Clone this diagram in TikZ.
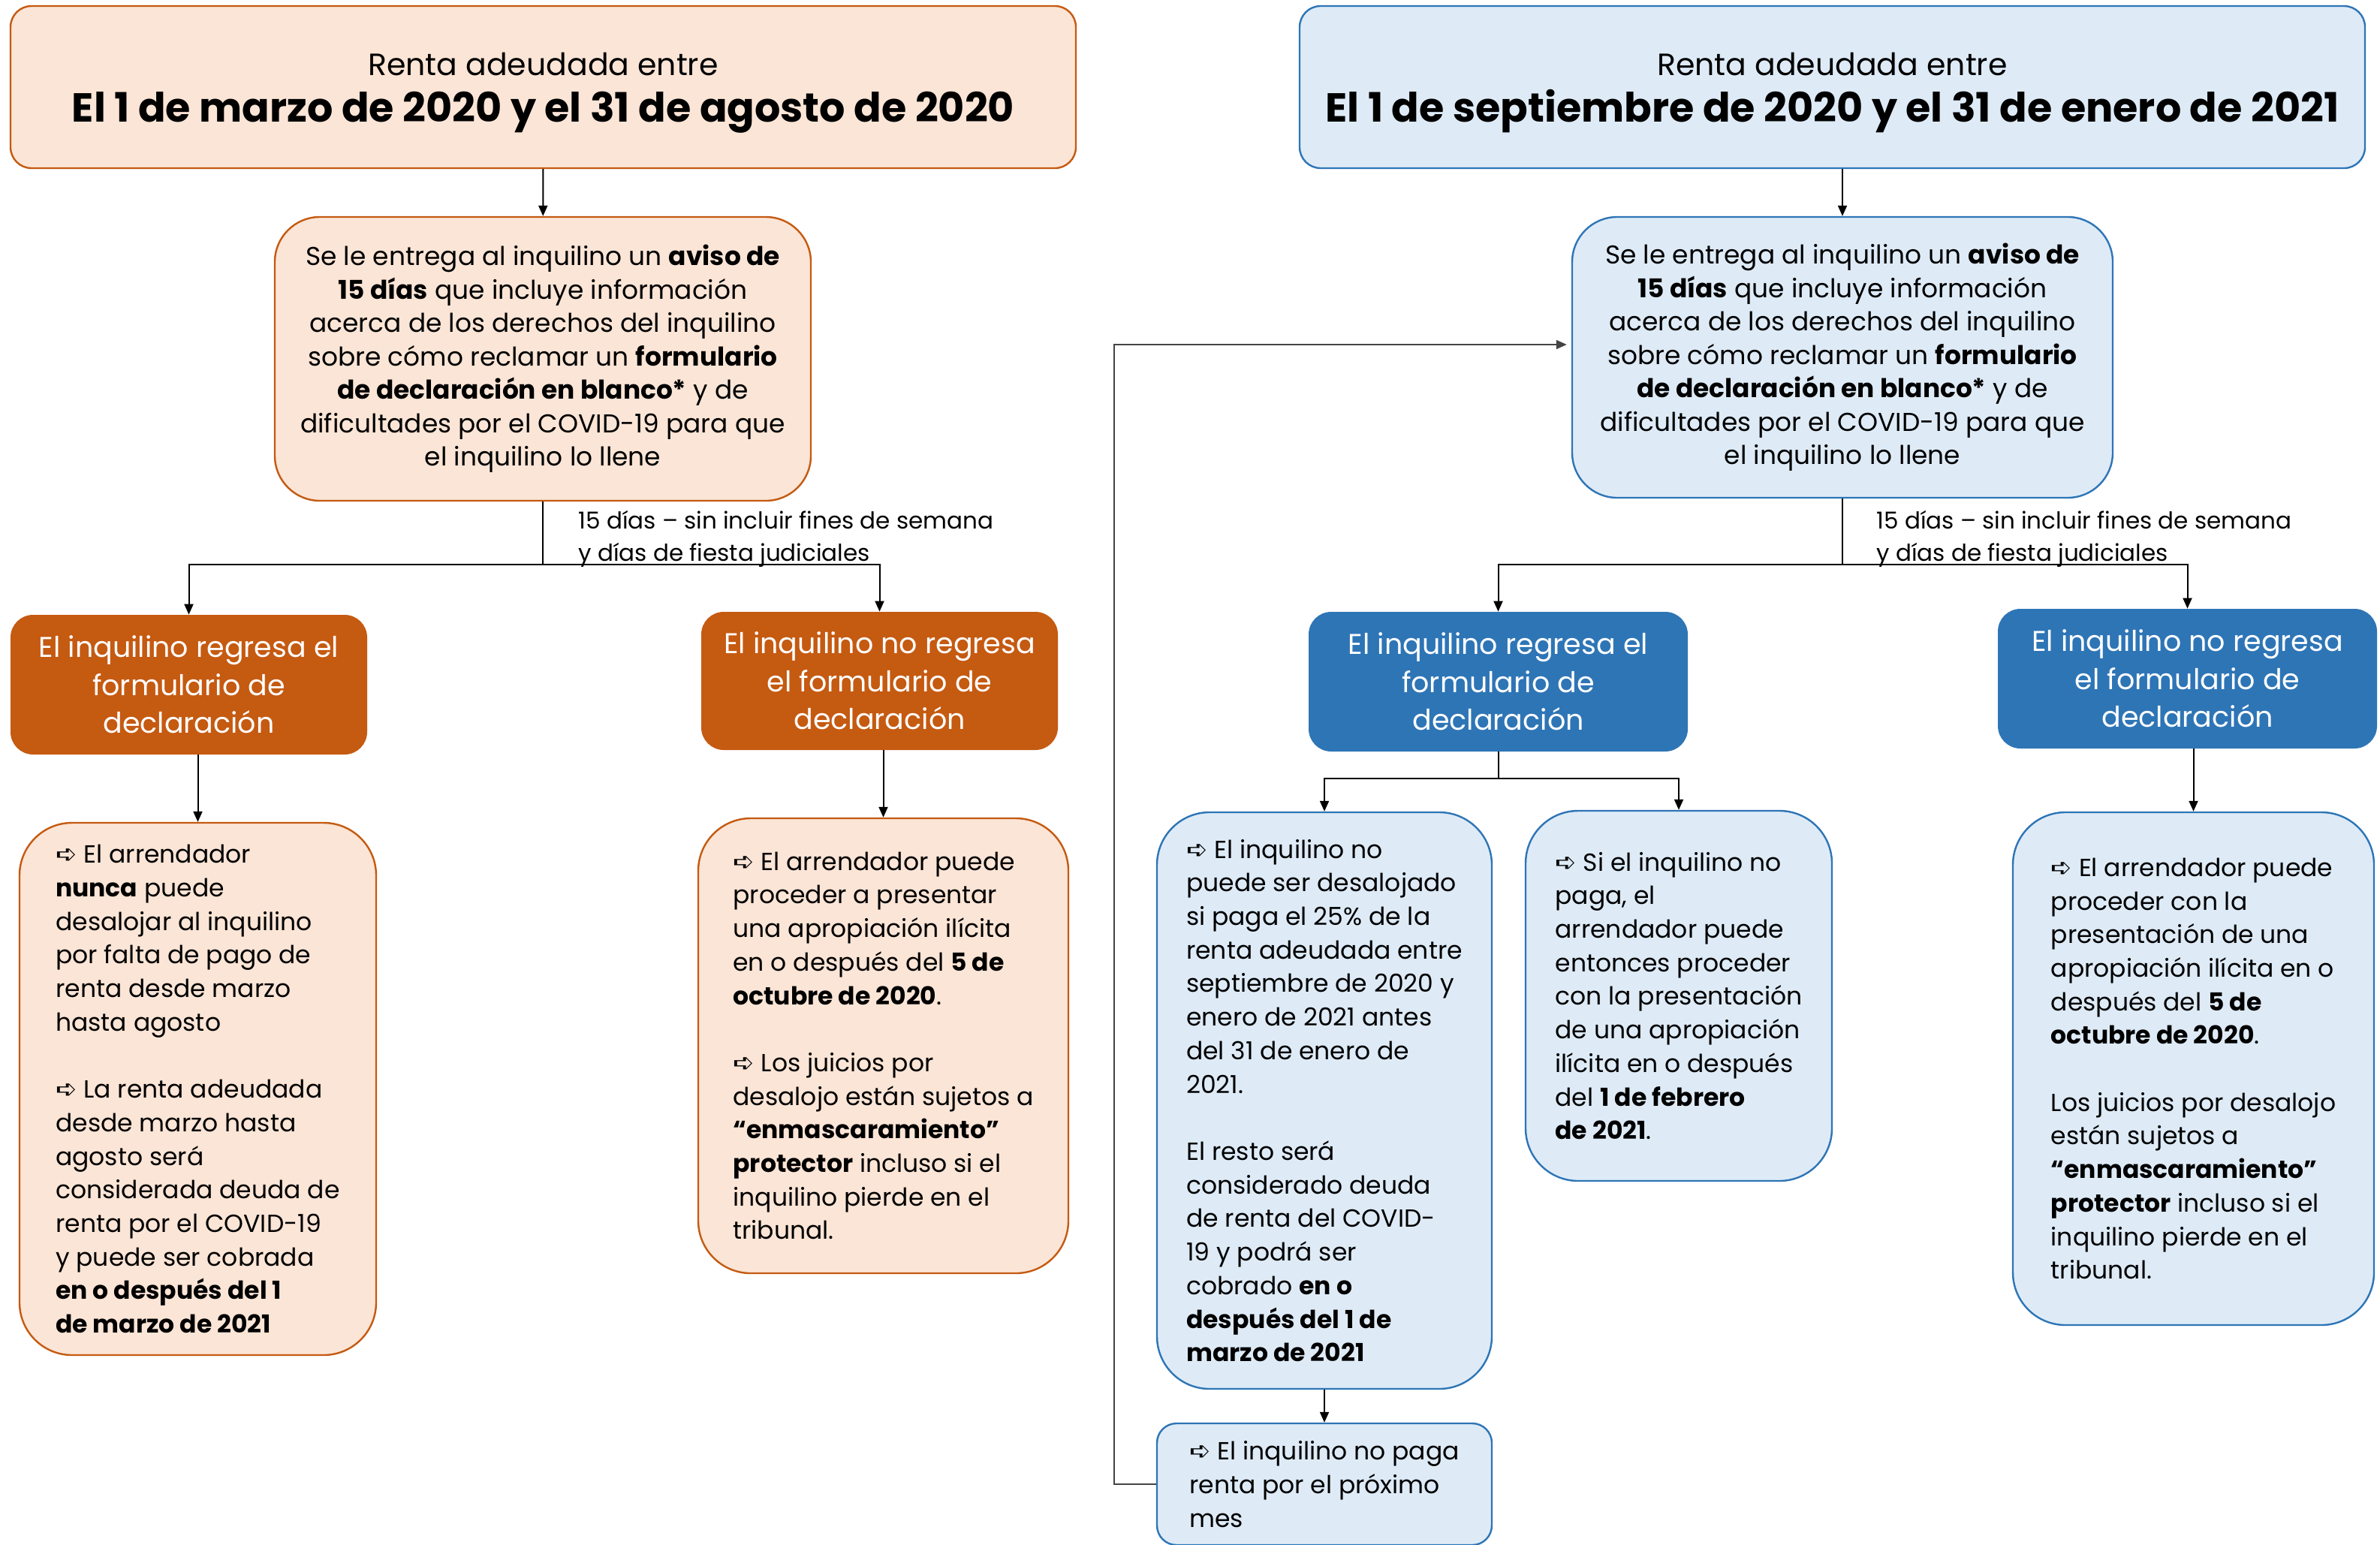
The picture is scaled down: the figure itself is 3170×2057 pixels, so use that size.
\documentclass[tikz,border=0pt]{standalone}
\usepackage{fontspec}
\setmainfont{Poppins}
\newfontfamily\dejavu{DejaVu Sans}
\usetikzlibrary{arrows.meta}
\definecolor{ofill}{HTML}{FBE5D6}
\definecolor{odark}{HTML}{C55A11}
\definecolor{bfill}{HTML}{DEEBF7}
\definecolor{bdark}{HTML}{2E75B6}
\definecolor{loopgray}{HTML}{444444}
\newcommand\myarrow{{\dejavu\fontsize{17}{17}\selectfont ➪}\ }
\begin{document}
\begin{tikzpicture}[x=0.5pt,y=-0.5pt,
  titlebox/.style={draw, line width=1.2pt, rounded corners=14pt, align=center,
    minimum width=709.5pt, minimum height=108pt, inner sep=0pt,
    font=\fontsize{20.5}{30}\selectfont},
  noticebox/.style={draw, line width=1.2pt, rounded corners=30pt, align=center,
    inner sep=0pt, font=\fontsize{17.2}{22.25}\selectfont},
  darkbox/.style={rounded corners=15pt, align=center, text=white, inner sep=0pt,
    font=\fontsize{19}{25.25}\selectfont},
  detailbox/.style={draw, line width=1.2pt, rounded corners=35pt, align=left,
    inner sep=0pt, font=\fontsize{16.5}{22.35}\selectfont},
  orangecol/.style={draw=odark, fill=ofill},
  bluecol/.style={draw=bdark, fill=bfill},
  odarkcol/.style={fill=odark},
  bdarkcol/.style={fill=bdark},
  lab/.style={align=left, inner sep=0pt, font=\fontsize{15.5}{21.5}\selectfont},
  arr/.style={-{Triangle[length=7pt,width=6pt]}, line width=1pt},
  conn/.style={line width=1pt}
]
\clip (0,0) rectangle (3170,2057);
\fill[white] (0,0) rectangle (3170,2057);

% titles
\node[titlebox, orangecol] (tL) at (723.5,116)
  {\rule{0pt}{23pt}Renta adeudada entre\\[1pt]{\fontsize{27}{30}\selectfont\bfseries El 1 de marzo de 2020 y el 31 de agosto de 2020}};
\node[titlebox, bluecol] (tR) at (2440.5,116)
  {\rule{0pt}{23pt}Renta adeudada entre\\[1pt]{\fontsize{27}{30}\selectfont\bfseries El 1 de septiembre de 2020 y el 31 de enero de 2021}};

% notice boxes
\node[noticebox, orangecol, minimum width=357pt, minimum height=189pt] (nL) at (723,478)
  {Se le entrega al inquilino un \textbf{aviso de}\\
   \textbf{15 días} que incluye información\\
   acerca de los derechos del inquilino\\
   sobre cómo reclamar un \textbf{formulario}\\
   \textbf{de declaración en blanco*} y de\\
   dificultades por el COVID-19 para que\\
   el inquilino lo llene};
\node[noticebox, bluecol, minimum width=360pt, minimum height=187pt] (nR) at (2454,476)
  {Se le entrega al inquilino un \textbf{aviso de}\\
   \textbf{15 días} que incluye información\\
   acerca de los derechos del inquilino\\
   sobre cómo reclamar un \textbf{formulario}\\
   \textbf{de declaración en blanco*} y de\\
   dificultades por el COVID-19 para que\\
   el inquilino lo llene};

% dark boxes
\node[darkbox, odarkcol, minimum width=237.5pt, minimum height=93pt] (o1) at (251.5,912)
  {El inquilino regresa el\\formulario de\\declaración};
\node[darkbox, odarkcol, minimum width=237.5pt, minimum height=92pt] (o2) at (1171.5,907)
  {El inquilino no regresa\\el formulario de\\declaración};
\node[darkbox, bdarkcol, minimum width=252.5pt, minimum height=93pt] (b1) at (1995.5,908)
  {El inquilino regresa el\\formulario de\\declaración};
\node[darkbox, bdarkcol, minimum width=252.5pt, minimum height=93pt] (b2) at (2913.5,904)
  {El inquilino no regresa\\el formulario de\\declaración};

% labels
\node[lab, anchor=west] (lab1) at (770,718)
  {15 días – sin incluir fines de semana\\y días de fiesta judiciales};
\node[lab, anchor=west] (lab2) at (2499,718)
  {15 días – sin incluir fines de semana\\y días de fiesta judiciales};

% detail boxes
\node[detailbox, orangecol, minimum width=237.5pt, minimum height=354.5pt] (L1) at (263.5,1450.5)
  {\myarrow El arrendador\\
   \textbf{nunca} puede\\
   desalojar al inquilino\\
   por falta de pago de\\
   renta desde marzo\\
   hasta agosto\\[22.35pt]
   \myarrow La renta adeudada\\
   desde marzo hasta\\
   agosto será\\
   considerada deuda de\\
   renta por el COVID-19\\
   y puede ser cobrada\\
   \textbf{en o después del 1}\\
   \textbf{de marzo de 2021}};
\node[detailbox, orangecol, minimum width=246.5pt, minimum height=303pt] (L2) at (1176.5,1393)
  {\myarrow El arrendador puede\\
   proceder a presentar\\
   una apropiación ilícita\\
   en o después del \textbf{5 de}\\
   \textbf{octubre de 2020}.\\[22.35pt]
   \myarrow Los juicios por\\
   desalojo están sujetos a\\
   \textbf{“enmascaramiento”}\\
   \textbf{protector} incluso si el\\
   inquilino pierde en el\\
   tribunal.};
\node[detailbox, bluecol, minimum width=223pt, minimum height=384pt] (d1) at (1764,1466)
  {\myarrow El inquilino no\\
   puede ser desalojado\\
   si paga el 25\% de la\\
   renta adeudada entre\\
   septiembre de 2020 y\\
   enero de 2021 antes\\
   del 31 de enero de\\
   2021.\\[22.35pt]
   El resto será\\
   considerado deuda\\
   de renta del COVID-\\
   19 y podrá ser\\
   cobrado \textbf{en o}\\
   \textbf{después del 1 de}\\
   \textbf{marzo de 2021}};
\node[detailbox, bluecol, minimum width=204pt, minimum height=246.5pt] (d2) at (2236,1326.5)
  {\myarrow Si el inquilino no\\
   paga, el\\
   arrendador puede\\
   entonces proceder\\
   con la presentación\\
   de una apropiación\\
   ilícita en o después\\
   del \textbf{1 de febrero}\\
   \textbf{de 2021}.};
\node[detailbox, bluecol, rounded corners=13pt, minimum width=223pt, minimum height=81pt] (d3) at (1764,1977)
  {\myarrow El inquilino no paga\\
   renta por el próximo\\
   mes};
\node[detailbox, bluecol, minimum width=240.5pt, minimum height=341.5pt] (d4) at (2921.5,1423.5)
  {\myarrow El arrendador puede\\
   proceder con la\\
   presentación de una\\
   apropiación ilícita en o\\
   después del \textbf{5 de}\\
   \textbf{octubre de 2020}.\\[22.35pt]
   Los juicios por desalojo\\
   están sujetos a\\
   \textbf{“enmascaramiento”}\\
   \textbf{protector} incluso si el\\
   inquilino pierde en el\\
   tribunal.};

% coordinates
\coordinate (brL) at (723,752);
\coordinate (brB) at (1995.5,1037);
\coordinate (lp) at (1484,459);

% connectors
\draw[arr] (tL) -- (nL);
\draw[arr] (tR.south -| nR.north) -- (nR.north);

\draw[conn] (nL.south) -- (brL);
\draw[arr] (brL) -| (o1.north);
\draw[arr] (brL) -| (o2.north);

\coordinate (brR) at (nR.south |- brL);
\draw[conn] (nR.south) -- (brR);
\draw[arr] (brR) -| (b1.north);
\draw[arr] (brR) -| (b2.north);

\draw[arr] (L1.north |- o1.south) -- (L1.north);
\draw[arr] (L2.north |- o2.south) -- (L2.north);

\draw[conn] (b1.south) -- (brB);
\draw[arr] (brB) -| (d1.north);
\draw[arr] (brB) -| (d2.north);

\draw[arr] (d1.south) -- (d3.north);
\draw[arr] (d4.north |- b2.south) -- (d4.north);

\draw[arr, loopgray, shorten >=3pt] (d3.west) -| (lp) -- (lp -| nR.west);
\end{tikzpicture}
\end{document}
